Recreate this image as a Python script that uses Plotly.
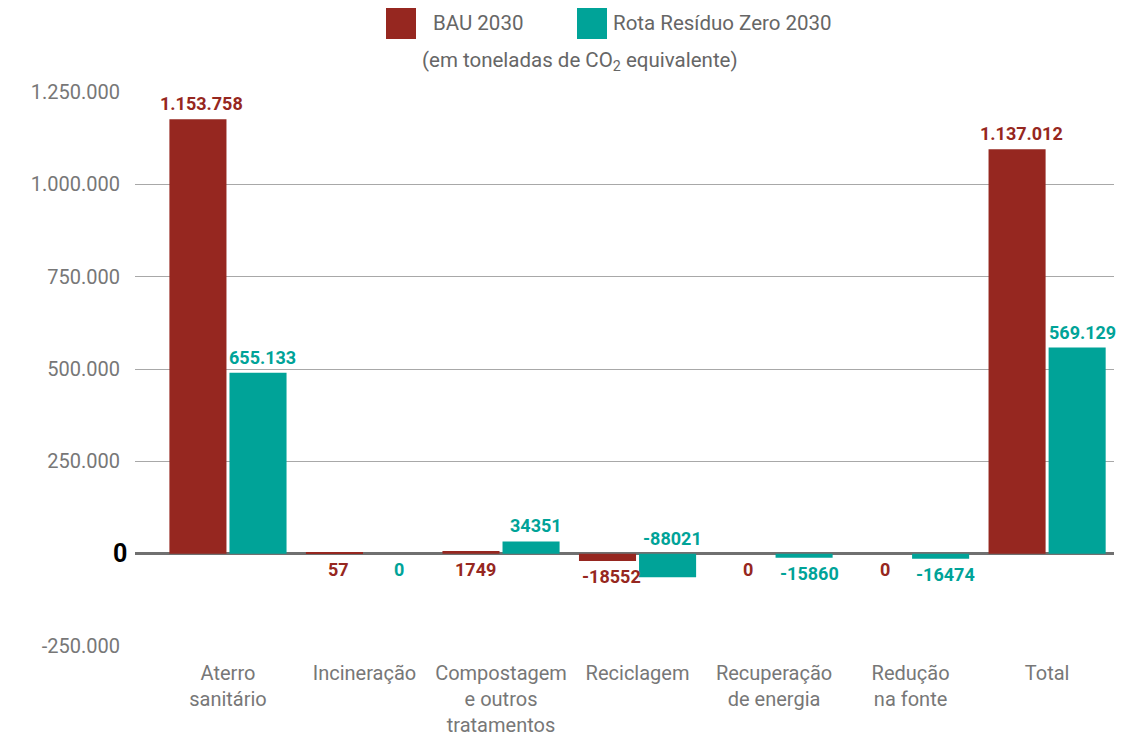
import plotly.graph_objects as go

categories = ["Aterro<br>sanitário", "Incineração", "Compostagem<br>e outros<br>tratamentos",
              "Reciclagem", "Recuperação<br>de energia", "Redução<br>na fonte", "Total"]
bau_values = [1176000, 3000, 7000, -20000, 0, 0, 1095000]
rrz_values = [490000, 0, 33000, -64000, -11000, -14000, 558000]
bau_labels = ["1.153.758", "57", "1749", "-18552", "0", "0", "1.137.012"]
rrz_labels = ["655.133", "0", "34351", "-88021", "-15860", "-16474", "569.129"]
bau_label_side = ["above", "below", "below", "below", "below", "below", "above"]
rrz_label_side = ["above", "below", "above", "above", "below", "below", "above"]
series_names = ["BAU 2030", "Rota Resíduo Zero 2030"]
y_tickvals = [-250000, 0, 250000, 500000, 750000, 1000000, 1250000]
y_ticktext = ["-250.000", "", "250.000", "500.000", "750.000", "1.000.000", "1.250.000"]
zero_label = "0"
subtitle = "(em toneladas de CO<sub>2</sub> equivalente)"

RED = "#962720"
TEAL = "#00A398"
GREY = "#777777"
FONT = "Roboto"

# page body has an 8px default margin; figure is sized so it ends at the window edge
OFF = 8
W, H = 1129 - OFF, 738 - OFF
ML, MR, MT, MB = 135 - OFF, 15, 92 - OFF, 92
pw, ph = W - ML - MR, H - MT - MB


def px_to_paper_x(px):
    return (px - OFF - ML) / pw


def px_to_paper_y(py):
    return (H - MB - (py - OFF)) / ph


fig = go.Figure()
fig.add_trace(go.Bar(x=categories, y=bau_values, name=series_names[0], marker_color=RED,
                     marker_line_width=0, showlegend=False))
fig.add_trace(go.Bar(x=categories, y=rrz_values, name=series_names[1], marker_color=TEAL,
                     marker_line_width=0, showlegend=False))

annotations = []
for vals, labs, sides, color, shift in [(bau_values, bau_labels, bau_label_side, RED, -26),
                                          (rrz_values, rrz_labels, rrz_label_side, TEAL, 35)]:
    for c, v, t, s in zip(categories, vals, labs, sides):
        if s == "above":
            annotations.append(dict(x=c, y=max(v, 0), text=f"<b>{t}</b>", xref="x", yref="y",
                                    xshift=shift, yshift=3, yanchor="bottom", showarrow=False,
                                    font=dict(family=FONT, size=18, color=color)))
        else:
            annotations.append(dict(x=c, y=min(v, 0), text=f"<b>{t}</b>", xref="x", yref="y",
                                    xshift=shift, yshift=-3, yanchor="top", showarrow=False,
                                    font=dict(family=FONT, size=18, color=color)))

# bold "0" tick label
annotations.append(dict(x=0, y=0, xref="paper", yref="y", text=f"<b>{zero_label}</b>",
                        showarrow=False, xanchor="right", yanchor="middle", xshift=-6,
                        font=dict(family=FONT, size=25, color="#000000")))

annotations.append(dict(x=px_to_paper_x(431), y=px_to_paper_y(23), xref="paper", yref="paper",
                        text=series_names[0], showarrow=False, xanchor="left", yanchor="middle",
                        font=dict(family=FONT, size=20.5, color="#666666")))
annotations.append(dict(x=px_to_paper_x(611), y=px_to_paper_y(23), xref="paper", yref="paper",
                        text=series_names[1], showarrow=False, xanchor="left", yanchor="middle",
                        font=dict(family=FONT, size=20.5, color="#666666")))
annotations.append(dict(x=px_to_paper_x(580), y=px_to_paper_y(61), xref="paper", yref="paper",
                        text=subtitle, showarrow=False, xanchor="center", yanchor="middle",
                        font=dict(family=FONT, size=20.5, color="#666666")))

shapes = [
    dict(type="rect", xref="paper", yref="paper",
         x0=px_to_paper_x(386), x1=px_to_paper_x(416), y0=px_to_paper_y(39), y1=px_to_paper_y(8),
         fillcolor=RED, line_width=0),
    dict(type="rect", xref="paper", yref="paper",
         x0=px_to_paper_x(577), x1=px_to_paper_x(607), y0=px_to_paper_y(39), y1=px_to_paper_y(8),
         fillcolor=TEAL, line_width=0),
]

fig.update_layout(
    width=W, height=H,
    margin=dict(l=ML, r=MR, t=MT, b=MB, pad=0, autoexpand=False),
    paper_bgcolor="white", plot_bgcolor="white",
    barmode="group", bargap=0.12, bargroupgap=0.05,
    annotations=annotations, shapes=shapes,
    font=dict(family=FONT, size=19, color=GREY),
    xaxis=dict(range=[-0.681, 6.49], showgrid=False, showline=False, ticks="",
               tickfont=dict(family=FONT, size=20, color=GREY), ticklabelstandoff=13,
               automargin=False),
    yaxis=dict(range=[-250000, 1250000], tickvals=y_tickvals, ticktext=y_ticktext,
               showgrid=True, gridcolor="#A8A8A8", gridwidth=1,
               zeroline=True, zerolinecolor="#707070", zerolinewidth=2.5,
               showline=False, ticks="", ticklabelstandoff=14, automargin=False,
               tickfont=dict(family=FONT, size=20, color=GREY)),
)

fig.write_html("out.html")
